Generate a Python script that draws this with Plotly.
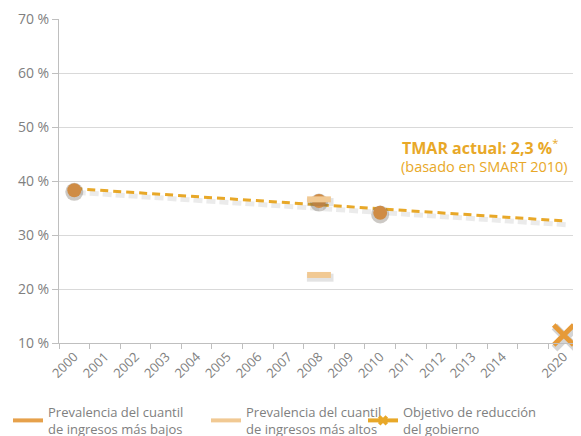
import plotly.graph_objects as go

# ---- data ----
categories = ["2000", "2001", "2002", "2003", "2004", "2005", "2006", "2007",
              "2008", "2009", "2010", "2011", "2012", "2013", "2014", "", "2020"]
tick_labels = [c for c in categories if c]
tick_pos = [i for i, c in enumerate(categories) if c]

lowest_years = ["2000", "2008", "2010"]
lowest_values = [38.3, 36.3, 34.1]

highest_years = ["2008", "2008"]
highest_values = [36.6, 22.6]

target_years = ["2020"]
target_values = [11.5]

trend_years = ["2000", "2020"]
trend_values = [38.6, 32.6]

yticks = [10, 20, 30, 40, 50, 60, 70]


def pos(years):
    return [categories.index(y) for y in years]


C_LOW = "#E6A14B"
C_HIGH = "#F1C993"
C_TARGET = "#E8A828"
C_X = "#E69A38"
GRAY = "#808080"
FONT = "Open Sans"

# page body has an 8px margin; figure is sized to fit the 581x436 window
OFF = 8
W, H = 581 - OFF, 436 - OFF
PL, PR = 59, 579  # plot area left/right in window pixels


def px_to_paper(px):
    return (px - PL) / (PR - PL)


fig = go.Figure()

# trend shadow
fig.add_trace(go.Scatter(
    x=[p + 0.08 for p in pos(trend_years)], y=[v - 0.7 for v in trend_values],
    mode="lines", line=dict(color="rgba(60,60,60,0.10)", width=5, dash="9px,4px"),
    showlegend=False, hoverinfo="skip"))
# trend line
fig.add_trace(go.Scatter(
    x=pos(trend_years), y=trend_values, mode="lines",
    line=dict(color=C_TARGET, width=3, dash="8px,5px"),
    showlegend=False))

# lowest quintile markers with shadow
fig.add_trace(go.Scatter(
    x=pos(lowest_years), y=[v - 0.3 for v in lowest_values],
    mode="markers", marker=dict(size=18, color="rgba(110,100,90,0.35)", line=dict(width=0)),
    showlegend=False, hoverinfo="skip"))
fig.add_trace(go.Scatter(
    x=pos(lowest_years), y=lowest_values, mode="markers",
    marker=dict(size=14, color="#CF8C45", line=dict(width=0)),
    showlegend=False))

# highest quintile markers with shadow
fig.add_trace(go.Scatter(
    x=[p + 0.04 for p in pos(highest_years)], y=[v - 0.5 for v in highest_values],
    mode="markers",
    marker=dict(symbol="line-ew-open", size=19, color="rgba(70,70,70,0.15)", line=dict(width=8)),
    showlegend=False, hoverinfo="skip"))
fig.add_trace(go.Scatter(
    x=pos(highest_years), y=highest_values, mode="markers",
    marker=dict(symbol="line-ew-open", size=17, color=C_HIGH, line=dict(width=6)),
    showlegend=False))

# target marker shadow
fig.add_trace(go.Scatter(
    x=[p + 0.06 for p in pos(target_years)], y=[v - 0.5 for v in target_values],
    mode="markers", cliponaxis=False,
    marker=dict(symbol="x-thin-open", size=22, color="rgba(60,60,60,0.22)", line=dict(width=8)),
    showlegend=False, hoverinfo="skip"))
fig.add_trace(go.Scatter(
    x=pos(target_years), y=target_values, mode="markers", cliponaxis=False,
    marker=dict(symbol="x-thin-open", size=20, color=C_X, line=dict(width=5)),
    showlegend=False))

# legend entries
fig.add_trace(go.Scatter(
    x=[None], y=[None], mode="lines", line=dict(color=C_LOW, width=4),
    name="Prevalencia del cuantil<br>de ingresos más bajos", legend="legend"))
fig.add_trace(go.Scatter(
    x=[None], y=[None], mode="lines", line=dict(color=C_HIGH, width=4),
    name="Prevalencia del cuantil<br>de ingresos más altos", legend="legend2"))
fig.add_trace(go.Scatter(
    x=[None], y=[None], mode="lines+markers", line=dict(color=C_TARGET, width=4),
    marker=dict(symbol="x", size=9, color=C_TARGET),
    name="Objetivo de reducción<br>del gobierno", legend="legend3"))

leg_common = dict(orientation="h", yref="container", xref="paper",
                  yanchor="top", xanchor="left", y=1 - (397 - OFF) / H,
                  font=dict(family=FONT, size=13, color=GRAY),
                  bgcolor="rgba(0,0,0,0)", borderwidth=0, itemwidth=30,
                  tracegroupgap=0)

fig.update_layout(
    width=W, height=H,
    margin=dict(l=PL - OFF, r=581 - PR, t=19 - OFF, b=93),
    paper_bgcolor="white", plot_bgcolor="white",
    font=dict(family=FONT, color=GRAY),
    legend=dict(leg_common, x=px_to_paper(3)),
    legend2=dict(leg_common, x=px_to_paper(206)),
    legend3=dict(leg_common, x=px_to_paper(363)),
    xaxis=dict(
        range=[-0.5, len(categories) - 0.5],
        tickvals=tick_pos, ticktext=tick_labels, tickangle=-45,
        ticks="", showgrid=False, zeroline=False,
        showline=True, linecolor="#BFBFBF", linewidth=1,
        tickfont=dict(family=FONT, size=13, color=GRAY),
        minor=dict(tick0=0.5, dtick=1, ticks="outside", ticklen=5,
                   tickcolor="#BFBFBF", tickwidth=1, showgrid=False),
    ),
    yaxis=dict(
        range=[10, 70], tickvals=yticks,
        ticktext=[f"{v} %" for v in yticks],
        ticks="outside", ticklen=6, tickcolor="#BFBFBF",
        showgrid=True, gridcolor="#D9D9D9", gridwidth=1,
        zeroline=False, showline=True, linecolor="#BFBFBF", linewidth=1,
        tickfont=dict(family=FONT, size=14, color=GRAY),
    ),
    annotations=[
        dict(xref="paper", yref="paper", x=px_to_paper(480), y=(343 - 147) / 324,
             text="<b>TMAR actual: 2,3 %</b><sup>*</sup>", showarrow=False,
             font=dict(family=FONT, size=16, color=C_TARGET),
             xanchor="center", yanchor="middle"),
        dict(xref="paper", yref="paper", x=px_to_paper(484), y=(343 - 166) / 324,
             text="(basado en SMART 2010)", showarrow=False,
             font=dict(family=FONT, size=14.5, color=C_TARGET),
             xanchor="center", yanchor="middle"),
    ],
)

fig.write_html("out.html")
